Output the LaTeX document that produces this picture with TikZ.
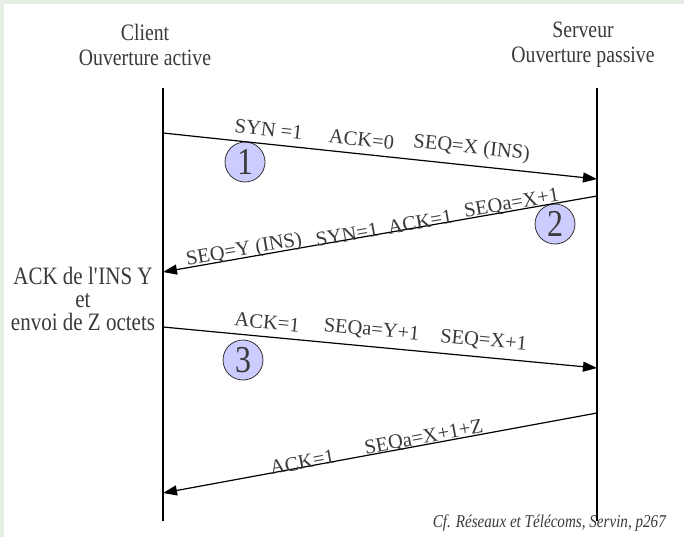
\documentclass[tikz,border=0pt]{standalone}
\usepackage{fontspec}
\setmainfont{Liberation Serif}[FakeStretch=0.84]
\newfontfamily\lblfont{Liberation Serif}
\usetikzlibrary{arrows.meta}
\definecolor{bgc}{HTML}{E6EFE6}
\definecolor{txt}{HTML}{3A3A3A}
\definecolor{circfill}{HTML}{CCCCFF}
\begin{document}
\begin{tikzpicture}[x=1pt,y=-1pt,
  title/.style={font=\fontsize{23.5}{25}\selectfont, text=txt, align=center, inner sep=0pt},
  lbl/.style={font=\lblfont\fontsize{20.5}{22}\selectfont, text=txt, inner sep=0pt, sloped},
  hi/.style={lbl, above=7pt},
  lo/.style={lbl, above=-2.5pt},
  msg/.style={line width=1.2pt, -{Triangle[length=14pt,width=10pt]}},
  msgback/.style={line width=1.2pt, {Triangle[length=14pt,width=10pt]}-},
  life/.style={line width=1.3pt},
  num/.style={circle, draw=black!80, line width=0.8pt, fill=circfill, minimum size=40pt, inner sep=0pt, font=\fontsize{38}{38}\selectfont, text=txt}]
\useasboundingbox (0,0) rectangle (684,537);
\fill[bgc] (0,0) rectangle (684,537);
\fill[white] (4,4) rectangle (684,537);

% titles
\node[title] (tc) at (145,45) {Client\\Ouverture active};
\node[title] (ts) at (583,45) {Serveur\\Ouverture passive};

% lifelines
\coordinate (ctop) at (163,88);
\coordinate (cbot) at (163,521);
\coordinate (stop) at (597,88);
\coordinate (sbot) at (597,521);
\draw[life] (ctop) -- (cbot);
\draw[life] (stop) -- (sbot);

% message endpoints
\coordinate (c1) at (163,133);
\coordinate (s1) at (597,179);
\coordinate (s2) at (597,196);
\coordinate (c2) at (163,272);
\coordinate (c3) at (163,327);
\coordinate (s3) at (597,368);
\coordinate (s4) at (597,413);
\coordinate (c4) at (163,493);

% circles (behind arrows)
\node[num] (n1) at (245,162) {1};
\node[num] (n2) at (555,224) {2};
\node[num] (n3) at (243,360) {3};

\draw[msg] (c1) -- (s1)
  node[hi, pos=0.24] {SYN =1}
  node[hi, pos=0.454] {ACK=0}
  node[hi, pos=0.707] {SEQ=X (INS)};
\draw[msgback] (c2) -- (s2)
  node[lo, pos=0.19] {SEQ=Y (INS)}
  node[lo, pos=0.426] {SYN=1}
  node[lo, pos=0.594] {ACK=1}
  node[lo, pos=0.806] {SEQa=X+1};
\draw[msg] (c3) -- (s3)
  node[hi, pos=0.237] {ACK=1}
  node[hi, pos=0.477] {SEQa=Y+1}
  node[hi, pos=0.735] {SEQ=X+1};
\draw[msgback] (c4) -- (s4)
  node[lo, pos=0.323] {ACK=1}
  node[lo, pos=0.604] {SEQa=X+1+Z};

% left note
\node[font=\fontsize{25}{23}\selectfont, text=txt, align=center, inner sep=0pt] (note) at (83,299) {ACK de l\textquotesingle INS Y\\et\\envoi de Z octets};

% source
\node[font=\fontsize{18}{19}\selectfont\itshape, text=txt, anchor=east, inner sep=0pt] (src) at (666,523) {Cf. Réseaux et Télécoms, Servin, p267};
\end{tikzpicture}
\end{document}
